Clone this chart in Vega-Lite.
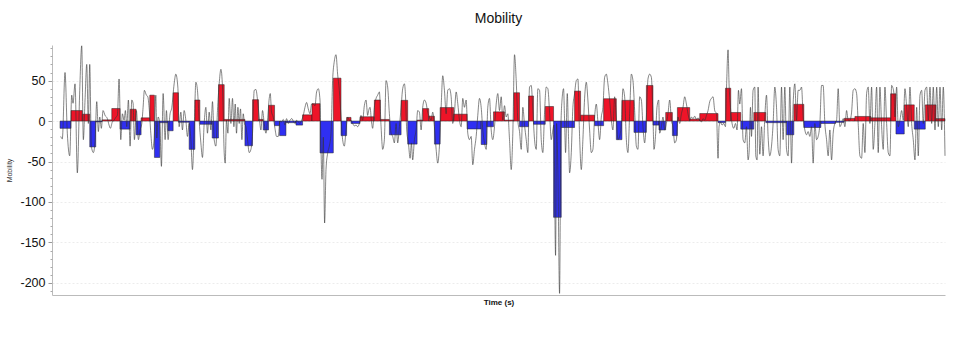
{
  "$schema": "https://vega.github.io/schema/vega-lite/v6.json",
  "width": 893,
  "height": 250,
  "autosize": {"type": "none"},
  "padding": {"left": 52, "top": 45, "right": 21, "bottom": 56},
  "background": "white",
  "config": {
    "font": "Liberation Sans",
    "view": {"stroke": null}
  },
  "title": {
    "text": "Mobility",
    "fontSize": 14,
    "fontWeight": "normal",
    "color": "#111",
    "anchor": "middle",
    "offset": 18
  },
  "datasets": {
    "bars": [
      {"t0": 8, "t1": 19, "v": -9},
      {"t0": 19, "t1": 30.3, "v": 13},
      {"t0": 30.3, "t1": 37.7, "v": 8.5},
      {"t0": 37.7, "t1": 43.7, "v": -32},
      {"t0": 43.7, "t1": 50, "v": -1},
      {"t0": 50, "t1": 59.7, "v": 1.5},
      {"t0": 59.7, "t1": 68, "v": 15.5},
      {"t0": 68, "t1": 78, "v": -10},
      {"t0": 78, "t1": 84, "v": 14.6},
      {"t0": 84, "t1": 89, "v": -17},
      {"t0": 89, "t1": 97.7, "v": 4},
      {"t0": 97.7, "t1": 102.3, "v": 32},
      {"t0": 102.3, "t1": 107.7, "v": -45},
      {"t0": 107.7, "t1": 115.7, "v": -2},
      {"t0": 115.7, "t1": 121, "v": -12},
      {"t0": 121, "t1": 126.3, "v": 35},
      {"t0": 126.3, "t1": 137, "v": -1.5},
      {"t0": 137, "t1": 142.7, "v": -35},
      {"t0": 142.7, "t1": 147.7, "v": 26},
      {"t0": 147.7, "t1": 160, "v": -4},
      {"t0": 160, "t1": 166.3, "v": -21},
      {"t0": 166.3, "t1": 172, "v": 45},
      {"t0": 172, "t1": 192.7, "v": 2},
      {"t0": 192.7, "t1": 200.3, "v": -30.5},
      {"t0": 200.3, "t1": 206.3, "v": 26.4},
      {"t0": 206.3, "t1": 211, "v": 2},
      {"t0": 211, "t1": 216.3, "v": -11},
      {"t0": 216.3, "t1": 222.3, "v": 19.5},
      {"t0": 222.3, "t1": 227.3, "v": -5.7},
      {"t0": 227.3, "t1": 233.7, "v": -18},
      {"t0": 233.7, "t1": 243.7, "v": -2},
      {"t0": 243.7, "t1": 250.3, "v": -5},
      {"t0": 250.3, "t1": 259.7, "v": 7.7},
      {"t0": 259.7, "t1": 267.7, "v": 21.5},
      {"t0": 267.7, "t1": 281, "v": -39.4},
      {"t0": 281, "t1": 288.7, "v": 53},
      {"t0": 288.7, "t1": 294.3, "v": -18},
      {"t0": 294.3, "t1": 298.7, "v": 4.5},
      {"t0": 298.7, "t1": 307.7, "v": -3},
      {"t0": 307.7, "t1": 322, "v": 5.3},
      {"t0": 322, "t1": 328, "v": 26},
      {"t0": 328, "t1": 337, "v": 2},
      {"t0": 337, "t1": 348.7, "v": -17},
      {"t0": 348.7, "t1": 355.3, "v": 25.6},
      {"t0": 355.3, "t1": 364.7, "v": -28.5},
      {"t0": 364.7, "t1": 370.3, "v": 1.2},
      {"t0": 370.3, "t1": 376.3, "v": 15.4},
      {"t0": 376.3, "t1": 382, "v": 6},
      {"t0": 382, "t1": 387.7, "v": -28.5},
      {"t0": 387.7, "t1": 401.3, "v": 16.7},
      {"t0": 401.3, "t1": 414.7, "v": 8.5},
      {"t0": 414.7, "t1": 428.7, "v": -9.8},
      {"t0": 428.7, "t1": 434.3, "v": -29},
      {"t0": 434.3, "t1": 441, "v": -7},
      {"t0": 441, "t1": 452, "v": 11.4},
      {"t0": 452, "t1": 461.3, "v": 1.2},
      {"t0": 461.3, "t1": 467, "v": 35},
      {"t0": 467, "t1": 476, "v": -7},
      {"t0": 476, "t1": 481, "v": 31},
      {"t0": 481, "t1": 492.7, "v": -4},
      {"t0": 492.7, "t1": 501, "v": 18},
      {"t0": 501, "t1": 508.7, "v": -119},
      {"t0": 508.7, "t1": 522, "v": -8},
      {"t0": 522, "t1": 528, "v": 37},
      {"t0": 528, "t1": 542, "v": 7.3},
      {"t0": 542, "t1": 551, "v": -5.7},
      {"t0": 551, "t1": 563.7, "v": 27.6},
      {"t0": 563.7, "t1": 569.3, "v": -23},
      {"t0": 569.3, "t1": 581.3, "v": 25.6},
      {"t0": 581.3, "t1": 593.7, "v": -14},
      {"t0": 593.7, "t1": 600.3, "v": 44},
      {"t0": 600.3, "t1": 606.3, "v": -5},
      {"t0": 606.3, "t1": 613, "v": -11},
      {"t0": 613, "t1": 619.7, "v": 10.6},
      {"t0": 619.7, "t1": 624.7, "v": -18},
      {"t0": 624.7, "t1": 637, "v": 16.7},
      {"t0": 637, "t1": 647, "v": 2.4},
      {"t0": 647, "t1": 665.3, "v": 9.3},
      {"t0": 665.3, "t1": 672.7, "v": -2},
      {"t0": 672.7, "t1": 678, "v": 40.6},
      {"t0": 678, "t1": 688, "v": 10.6},
      {"t0": 688, "t1": 701, "v": -10},
      {"t0": 701, "t1": 713, "v": 10.6},
      {"t0": 713, "t1": 733.7, "v": -2},
      {"t0": 733.7, "t1": 741, "v": -17},
      {"t0": 741, "t1": 751, "v": 20.7},
      {"t0": 751, "t1": 768, "v": -8},
      {"t0": 768, "t1": 782.7, "v": -3},
      {"t0": 782.7, "t1": 791.3, "v": -1.6},
      {"t0": 791.3, "t1": 802, "v": 3.3},
      {"t0": 802, "t1": 818, "v": 5.7},
      {"t0": 818, "t1": 837.7, "v": 4},
      {"t0": 837.7, "t1": 843, "v": 33.7},
      {"t0": 843, "t1": 851.3, "v": -16},
      {"t0": 851.3, "t1": 861.3, "v": 20},
      {"t0": 861.3, "t1": 872.3, "v": -10},
      {"t0": 872.3, "t1": 883, "v": 20},
      {"t0": 883, "t1": 892, "v": 3}
    ],
    "signal": [
      {"t": 8.7, "v": -19}, {"t": 10.3, "v": -22}, {"t": 13, "v": 60}, {"t": 15.3, "v": -15}, {"t": 17.7, "v": -43},
      {"t": 19.7, "v": 32}, {"t": 21, "v": 22}, {"t": 23, "v": 46}, {"t": 25.3, "v": -64}, {"t": 27.7, "v": 38},
      {"t": 29.7, "v": 93}, {"t": 31.3, "v": -23}, {"t": 33, "v": 26}, {"t": 34.7, "v": 70}, {"t": 36.3, "v": -3},
      {"t": 37.7, "v": 70}, {"t": 39.3, "v": -31}, {"t": 41.3, "v": -39}, {"t": 43, "v": -25}, {"t": 44.7, "v": 24},
      {"t": 46.3, "v": -13}, {"t": 47.7, "v": 5}, {"t": 49.3, "v": -9}, {"t": 51, "v": 13}, {"t": 53, "v": 7},
      {"t": 55.3, "v": 3}, {"t": 57, "v": -5}, {"t": 58.3, "v": -9}, {"t": 60.3, "v": -1}, {"t": 62, "v": 1},
      {"t": 63.7, "v": 4.5}, {"t": 65.3, "v": 7}, {"t": 67, "v": 52}, {"t": 68.7, "v": -23}, {"t": 70.3, "v": 9},
      {"t": 72, "v": 1}, {"t": 73.3, "v": 13}, {"t": 74.7, "v": -7}, {"t": 76.3, "v": 26}, {"t": 78, "v": -31},
      {"t": 79.7, "v": 26}, {"t": 81, "v": 22}, {"t": 82.3, "v": -23}, {"t": 84.3, "v": 13}, {"t": 86.3, "v": -23},
      {"t": 88, "v": -11}, {"t": 89.7, "v": -3}, {"t": 91, "v": 17}, {"t": 92.3, "v": 38}, {"t": 94.3, "v": 32},
      {"t": 95.7, "v": 30}, {"t": 97, "v": 17}, {"t": 98.7, "v": -15}, {"t": 100.3, "v": -35}, {"t": 102, "v": -23},
      {"t": 103.7, "v": 32}, {"t": 104.7, "v": -21}, {"t": 106, "v": 5}, {"t": 107.7, "v": -3}, {"t": 109.3, "v": -56},
      {"t": 111, "v": 34}, {"t": 113, "v": -23}, {"t": 114.3, "v": 13}, {"t": 116, "v": -23}, {"t": 117.7, "v": 7},
      {"t": 119.7, "v": 17}, {"t": 122, "v": 46}, {"t": 123.7, "v": 58}, {"t": 125.7, "v": 42}, {"t": 127, "v": -7},
      {"t": 128.7, "v": 11}, {"t": 130.3, "v": -11}, {"t": 132, "v": 13}, {"t": 133.7, "v": 1}, {"t": 135.3, "v": -19},
      {"t": 137, "v": -3}, {"t": 138.7, "v": -23}, {"t": 140.3, "v": -60}, {"t": 142, "v": -11}, {"t": 143.7, "v": 48},
      {"t": 145.3, "v": 38}, {"t": 147, "v": 1},
      {"t": 148.7, "v": -27}, {"t": 150.3, "v": -45}, {"t": 152, "v": -3}, {"t": 153.7, "v": 17}, {"t": 155.3, "v": -15},
      {"t": 157, "v": 11}, {"t": 158.7, "v": -11}, {"t": 160.3, "v": 24}, {"t": 162, "v": -23}, {"t": 163.7, "v": -31},
      {"t": 165.3, "v": 13}, {"t": 167, "v": 46}, {"t": 168.7, "v": 64}, {"t": 170.3, "v": 42}, {"t": 172, "v": -39},
      {"t": 173, "v": -52}, {"t": 174.3, "v": 1}, {"t": 175.7, "v": -15}, {"t": 177, "v": 28}, {"t": 178.7, "v": -3},
      {"t": 180.3, "v": 28}, {"t": 181.7, "v": -7}, {"t": 183, "v": 21}, {"t": 184.3, "v": -15}, {"t": 185.7, "v": 17},
      {"t": 187, "v": -3}, {"t": 188.3, "v": 15}, {"t": 189.7, "v": -23}, {"t": 191, "v": 9}, {"t": 192.3, "v": -3},
      {"t": 193.7, "v": -7}, {"t": 195.3, "v": -23}, {"t": 197, "v": -39}, {"t": 198.7, "v": -35}, {"t": 200.3, "v": -15},
      {"t": 202, "v": 38}, {"t": 203.7, "v": 39}, {"t": 205.3, "v": 26}, {"t": 207, "v": 5}, {"t": 208.7, "v": -11},
      {"t": 210.3, "v": 13}, {"t": 212, "v": -3}, {"t": 213.7, "v": -15}, {"t": 215.3, "v": 1}, {"t": 217, "v": 28},
      {"t": 218, "v": 34}, {"t": 219.3, "v": 11}, {"t": 221, "v": 5}, {"t": 222.7, "v": -9}, {"t": 224.3, "v": -19},
      {"t": 226, "v": -19}, {"t": 227.7, "v": 0}, {"t": 229.3, "v": -1}, {"t": 231, "v": 2}, {"t": 232.7, "v": -5},
      {"t": 234.3, "v": 3}, {"t": 236, "v": -3}, {"t": 237.7, "v": 1}, {"t": 239.7, "v": 3}, {"t": 241.3, "v": -1},
      {"t": 243, "v": -3}, {"t": 244.3, "v": 1}, {"t": 246, "v": -1}, {"t": 247.7, "v": -3}, {"t": 249.3, "v": 1},
      {"t": 251, "v": 7}, {"t": 252.7, "v": 17}, {"t": 254.3, "v": 23}, {"t": 256, "v": 15}, {"t": 257.7, "v": 9},
      {"t": 259.3, "v": 21}, {"t": 261, "v": 21}, {"t": 262.7, "v": 19}, {"t": 264.3, "v": 36}, {"t": 266, "v": 40},
      {"t": 267.7, "v": 26}, {"t": 268.7, "v": -35}, {"t": 269.7, "v": -72}, {"t": 271, "v": -20}, {"t": 272.3, "v": -126},
      {"t": 273.7, "v": -60}, {"t": 275.3, "v": -40}, {"t": 277, "v": -31}, {"t": 278.7, "v": -15}, {"t": 280.3, "v": 50},
      {"t": 282, "v": 74}, {"t": 283.7, "v": 82}, {"t": 285.3, "v": 58}, {"t": 287, "v": 38}, {"t": 288.7, "v": 5},
      {"t": 290.3, "v": -23}, {"t": 292, "v": -31}, {"t": 293.7, "v": -11}, {"t": 295.3, "v": 5}, {"t": 297, "v": 1},
      {"t": 298.7, "v": 1}, {"t": 300.3, "v": -3}, {"t": 302, "v": -6}, {"t": 303.7, "v": -5}, {"t": 305.3, "v": -7},
      {"t": 307, "v": -3}, {"t": 308.7, "v": 7}, {"t": 310.3, "v": 1}, {"t": 312, "v": 19}, {"t": 313.7, "v": 26},
      {"t": 315.3, "v": 7}, {"t": 316.3, "v": 13}, {"t": 317.7, "v": 17}, {"t": 319, "v": 1}, {"t": 320.3, "v": -9},
      {"t": 322, "v": 17}, {"t": 323.7, "v": 28}, {"t": 325.3, "v": 32}, {"t": 327, "v": 36}, {"t": 328.7, "v": -7},
      {"t": 330.3, "v": -35}, {"t": 332, "v": -23}, {"t": 333.7, "v": 50}, {"t": 335.3, "v": 42}, {"t": 337, "v": 9},
      {"t": 338.7, "v": -15}, {"t": 340.3, "v": -19}, {"t": 342, "v": -27}, {"t": 343.7, "v": -3}, {"t": 345.3, "v": -27},
      {"t": 347, "v": -7}, {"t": 348.7, "v": 17}, {"t": 350.3, "v": 40}, {"t": 352, "v": 46}, {"t": 353, "v": 34},
      {"t": 354.3, "v": -11}, {"t": 356, "v": -27}, {"t": 357.7, "v": -46}, {"t": 359, "v": -27}, {"t": 360.3, "v": -48},
      {"t": 362, "v": -23}, {"t": 363.7, "v": -11}, {"t": 365.3, "v": 13}, {"t": 367, "v": 11}, {"t": 368.7, "v": -11},
      {"t": 370.3, "v": 17}, {"t": 372, "v": 26}, {"t": 373.7, "v": 22}, {"t": 375.3, "v": 11}, {"t": 377, "v": 5},
      {"t": 378.7, "v": 1}, {"t": 380.3, "v": 11}, {"t": 382, "v": -7}, {"t": 383.7, "v": -35}, {"t": 385.3, "v": -52},
      {"t": 387, "v": -31}, {"t": 388.7, "v": 17}, {"t": 390.3, "v": 56}, {"t": 392, "v": 38}, {"t": 393.7, "v": 9},
      {"t": 395.3, "v": 38}, {"t": 397, "v": 40}, {"t": 398.7, "v": 30}, {"t": 400.3, "v": -3}, {"t": 402, "v": 11},
      {"t": 403.7, "v": 36}, {"t": 405.3, "v": 22}, {"t": 407, "v": 1}, {"t": 408.7, "v": -7}, {"t": 410.3, "v": 28},
      {"t": 412, "v": 17}, {"t": 413.7, "v": 26}, {"t": 415.3, "v": -15}, {"t": 417, "v": -23}, {"t": 418.7, "v": -19},
      {"t": 420.3, "v": -54}, {"t": 422, "v": -35}, {"t": 423.7, "v": -19}, {"t": 425.3, "v": 7}, {"t": 427, "v": 28},
      {"t": 428.7, "v": 17}, {"t": 430.3, "v": -11}, {"t": 432, "v": -27}, {"t": 433.7, "v": -35}, {"t": 435.3, "v": 17},
      {"t": 437, "v": 28}, {"t": 438.7, "v": -11}, {"t": 440.3, "v": -23}, {"t": 442, "v": -7}, {"t": 443.7, "v": 21},
      {"t": 445.3, "v": 34},
      {"t": 447, "v": 13}, {"t": 448.7, "v": 30}, {"t": 450.3, "v": 1}, {"t": 452, "v": 19}, {"t": 453.7, "v": 5},
      {"t": 455.3, "v": 9}, {"t": 457, "v": -23}, {"t": 458.7, "v": -60}, {"t": 460.3, "v": -15}, {"t": 462, "v": 82},
      {"t": 463.7, "v": 50}, {"t": 465.3, "v": 1}, {"t": 467, "v": -13}, {"t": 468.7, "v": -35}, {"t": 470.3, "v": 17},
      {"t": 472, "v": -5}, {"t": 473.7, "v": -23}, {"t": 475.3, "v": -39}, {"t": 477, "v": 42}, {"t": 478.7, "v": 44},
      {"t": 480.3, "v": 13}, {"t": 482, "v": -23}, {"t": 483.7, "v": -35}, {"t": 485.3, "v": 40}, {"t": 487, "v": 38},
      {"t": 488.7, "v": -23}, {"t": 490.3, "v": -39}, {"t": 492, "v": 11}, {"t": 493.7, "v": 42}, {"t": 495.3, "v": 40},
      {"t": 497, "v": 11}, {"t": 498.7, "v": -23}, {"t": 500.3, "v": -11}, {"t": 501.3, "v": -5}, {"t": 503, "v": -166},
      {"t": 504, "v": -3}, {"t": 505.3, "v": -60}, {"t": 507, "v": -213}, {"t": 508.3, "v": -9}, {"t": 509.7, "v": 30},
      {"t": 511, "v": 40}, {"t": 512, "v": 1}, {"t": 513, "v": -39}, {"t": 514.7, "v": 34}, {"t": 516, "v": -23},
      {"t": 517, "v": -64}, {"t": 518.7, "v": -39}, {"t": 520.3, "v": 17}, {"t": 522, "v": 34}, {"t": 523.7, "v": 50},
      {"t": 525.3, "v": 52}, {"t": 527, "v": -19}, {"t": 528.7, "v": -60}, {"t": 530.3, "v": -23}, {"t": 532, "v": 28},
      {"t": 533.7, "v": 48}, {"t": 535.3, "v": 26}, {"t": 537, "v": -11}, {"t": 538.7, "v": -39}, {"t": 540.3, "v": -35},
      {"t": 542, "v": 5}, {"t": 543.7, "v": 21}, {"t": 545.3, "v": -1}, {"t": 547, "v": -23}, {"t": 548.7, "v": 5},
      {"t": 550.3, "v": 17}, {"t": 552, "v": 54}, {"t": 553.7, "v": 58}, {"t": 555.3, "v": 46}, {"t": 557, "v": 26},
      {"t": 558.7, "v": 1}, {"t": 560.3, "v": -11}, {"t": 562, "v": 30}, {"t": 563.7, "v": 5}, {"t": 565.3, "v": -23},
      {"t": 567, "v": -19}, {"t": 568.7, "v": -3}, {"t": 570.3, "v": 40}, {"t": 572, "v": 30}, {"t": 573.7, "v": -23},
      {"t": 575.3, "v": -39}, {"t": 577, "v": 9}, {"t": 578.7, "v": 58}, {"t": 580.3, "v": 50}, {"t": 582, "v": 13},
      {"t": 583.7, "v": -31}, {"t": 585.3, "v": -35}, {"t": 587, "v": 30}, {"t": 588.7, "v": 26}, {"t": 590.3, "v": -7},
      {"t": 592, "v": -27}, {"t": 593.7, "v": 5}, {"t": 595.3, "v": 52},
      {"t": 597, "v": 58}, {"t": 598.7, "v": 54}, {"t": 600.3, "v": 5}, {"t": 601.3, "v": -35}, {"t": 603, "v": -15},
      {"t": 604.3, "v": 17}, {"t": 606, "v": 26}, {"t": 607, "v": -15}, {"t": 608.7, "v": -7}, {"t": 610.3, "v": 5},
      {"t": 612, "v": -11}, {"t": 613.7, "v": -3}, {"t": 615.3, "v": 9}, {"t": 617, "v": 26}, {"t": 618.7, "v": 1},
      {"t": 620.3, "v": -7}, {"t": 622, "v": -27}, {"t": 623.7, "v": -23}, {"t": 625.3, "v": 5}, {"t": 627, "v": -3},
      {"t": 628.7, "v": 9}, {"t": 630.3, "v": 17}, {"t": 632, "v": 30}, {"t": 633.7, "v": 21}, {"t": 635.3, "v": 9},
      {"t": 637, "v": 1}, {"t": 638.7, "v": 5}, {"t": 640.3, "v": 3}, {"t": 642, "v": 6}, {"t": 643.7, "v": 2},
      {"t": 645.3, "v": 4}, {"t": 647, "v": 1}, {"t": 648.7, "v": -1}, {"t": 650.3, "v": 3}, {"t": 652, "v": 1},
      {"t": 653.7, "v": 7}, {"t": 655.3, "v": 13}, {"t": 657, "v": 24}, {"t": 658.7, "v": 28}, {"t": 660.3, "v": 30},
      {"t": 662, "v": 13}, {"t": 663.7, "v": 9}, {"t": 665.3, "v": -46}, {"t": 666.3, "v": -7}, {"t": 667.7, "v": -1},
      {"t": 669.3, "v": -5}, {"t": 671, "v": -3}, {"t": 672.7, "v": -7}, {"t": 673.7, "v": 38}, {"t": 675.3, "v": 88},
      {"t": 676.3, "v": 46}, {"t": 677.7, "v": 17}, {"t": 679.3, "v": -3}, {"t": 681, "v": -9}, {"t": 682.7, "v": -3},
      {"t": 684.3, "v": -11}, {"t": 685.7, "v": 38}, {"t": 687, "v": 21}, {"t": 688.7, "v": 40}, {"t": 690.3, "v": -23},
      {"t": 692, "v": -27}, {"t": 693.7, "v": -7}, {"t": 695.3, "v": -48}, {"t": 696.3, "v": -39}, {"t": 697.7, "v": 17},
      {"t": 698.7, "v": -19}, {"t": 700.3, "v": 38}, {"t": 702, "v": 42}, {"t": 703, "v": -43}, {"t": 704.3, "v": -48},
      {"t": 705.3, "v": 42}, {"t": 707, "v": -41}, {"t": 708.7, "v": -7}, {"t": 710.3, "v": -43}, {"t": 712, "v": 5},
      {"t": 713.7, "v": 32}, {"t": 715.3, "v": -19}, {"t": 717, "v": -43}, {"t": 718.7, "v": -31}, {"t": 720.3, "v": -3},
      {"t": 722, "v": 42}, {"t": 723.7, "v": 17}, {"t": 725.3, "v": -35}, {"t": 727, "v": -43}, {"t": 728.7, "v": 42},
      {"t": 730.3, "v": -23}, {"t": 732, "v": 42}, {"t": 733.7, "v": -35}, {"t": 735.3, "v": -43}, {"t": 737, "v": 42},
      {"t": 738.7, "v": -52}, {"t": 740.3, "v": 21}, {"t": 742, "v": 46}, {"t": 743.7, "v": 1}, {"t": 745.3, "v": 38},
      {"t": 747, "v": 38}, {"t": 748.7, "v": 42}, {"t": 750.3, "v": 5}, {"t": 752, "v": -11}, {"t": 753.7, "v": -17},
      {"t": 755.3, "v": -13}, {"t": 757, "v": -19}, {"t": 758.7, "v": -7}, {"t": 760.3, "v": -52}, {"t": 762, "v": -3},
      {"t": 763.7, "v": -23}, {"t": 765.3, "v": -19}, {"t": 767, "v": -3}, {"t": 768.7, "v": 44}, {"t": 770.3, "v": 44},
      {"t": 772, "v": -3}, {"t": 773.7, "v": -23}, {"t": 775.3, "v": -43}, {"t": 777, "v": -11}, {"t": 778.7, "v": -48},
      {"t": 780.3, "v": -15}, {"t": 782, "v": -3}, {"t": 783.7, "v": 1}, {"t": 785.3, "v": 40}, {"t": 787, "v": -7},
      {"t": 788.7, "v": -3}, {"t": 790.3, "v": 3}, {"t": 792, "v": -7}, {"t": 793.7, "v": 13}, {"t": 795.3, "v": 1},
      {"t": 797, "v": 1}, {"t": 798.7, "v": 11}, {"t": 800.3, "v": 38}, {"t": 802, "v": 40}, {"t": 803.7, "v": 34},
      {"t": 805.3, "v": -3}, {"t": 807, "v": -43}, {"t": 808.7, "v": -46}, {"t": 810.3, "v": -3}, {"t": 812, "v": -39},
      {"t": 813.7, "v": 34}, {"t": 815.3, "v": 42}, {"t": 817, "v": -3}, {"t": 818.7, "v": 42}, {"t": 820.3, "v": -35},
      {"t": 822, "v": -3}, {"t": 823.7, "v": 42}, {"t": 825.3, "v": -39}, {"t": 827, "v": 42}, {"t": 828.7, "v": -7},
      {"t": 830.3, "v": -35}, {"t": 832, "v": 42}, {"t": 833.7, "v": -3}, {"t": 835.3, "v": -39}, {"t": 837, "v": -43},
      {"t": 838.7, "v": 44}, {"t": 839.7, "v": 42}, {"t": 841, "v": 34}, {"t": 842, "v": 5}, {"t": 843.7, "v": 42},
      {"t": 845.3, "v": -7}, {"t": 847, "v": 1}, {"t": 848.7, "v": 13}, {"t": 850.3, "v": 1}, {"t": 852, "v": 40},
      {"t": 853.7, "v": 17}, {"t": 855.3, "v": -7}, {"t": 857, "v": 42}, {"t": 858.7, "v": -3}, {"t": 860.3, "v": -23},
      {"t": 862, "v": -48}, {"t": 863.7, "v": 17}, {"t": 865.3, "v": -43}, {"t": 867, "v": 32}, {"t": 868.7, "v": 38},
      {"t": 870.3, "v": -3}, {"t": 872, "v": 38}, {"t": 873.7, "v": 42}, {"t": 875.3, "v": 1}, {"t": 877, "v": 42},
      {"t": 878.7, "v": -3}, {"t": 880.3, "v": 42}, {"t": 882, "v": -11}, {"t": 883.7, "v": 42}, {"t": 885.3, "v": -7},
      {"t": 887, "v": 42}, {"t": 888.7, "v": -11}, {"t": 890.3, "v": 42}, {"t": 892, "v": -43}
    ]
  },
  "resolve": {"axis": {"y": "independent"}},
  "layer": [
    {
      "data": {"name": "bars"},
      "mark": {"type": "rect", "stroke": "#222", "strokeWidth": 0.5},
      "encoding": {
        "x": {
          "field": "t0", "type": "quantitative",
          "scale": {"domain": [0, 892], "nice": false, "zero": false},
          "axis": {
            "title": "Time (s)", "titleFontSize": 8, "titleFontWeight": "bold", "titleColor": "#111",
            "titlePadding": 3, "labels": false, "ticks": false, "grid": false,
            "domainColor": "#bbb", "domainWidth": 1
          }
        },
        "x2": {"field": "t1"},
        "y": {
          "field": "v", "type": "quantitative",
          "scale": {"domain": [-215, 94], "nice": false, "zero": false},
          "axis": {
            "orient": "left",
            "title": "Mobility", "titleFontSize": 7, "titleFontWeight": "normal", "titleColor": "#333",
            "titlePadding": 7,
            "values": [-200, -150, -100, -50, 0, 50],
            "labelExpr": "'' + datum.value",
            "labelFontSize": 12.5, "labelColor": "#111", "labelPadding": 3,
            "tickSize": 4, "tickColor": "#999",
            "domainColor": "#bbb",
            "grid": true, "gridColor": "#ececec", "gridDash": [2, 2]
          }
        },
        "y2": {"datum": 0},
        "color": {
          "condition": {"test": "datum.v > 0", "value": "#ee1428"},
          "value": "#2f2ff2"
        }
      }
    },
    {
      "data": {"name": "signal"},
      "mark": {"type": "line", "color": "#333", "strokeWidth": 0.7, "opacity": 0.85, "interpolate": "monotone"},
      "encoding": {
        "x": {"field": "t", "type": "quantitative"},
        "y": {"field": "v", "type": "quantitative", "axis": null}
      }
    },
    {
      "data": {"values": [{"v": 0}]},
      "mark": {"type": "rule", "opacity": 0},
      "encoding": {
        "y": {
          "field": "v", "type": "quantitative",
          "axis": {
            "orient": "left", "title": null, "labels": false, "grid": false, "domain": false,
            "values": [-210, -190, -180, -170, -160, -140, -130, -120, -110, -90, -80, -70, -60, -40, -30, -20, -10, 10, 20, 30, 40, 60, 70, 80, 90],
            "tickSize": 2, "tickColor": "#aaa", "offset": 0
          }
        }
      }
    }
  ]
}
